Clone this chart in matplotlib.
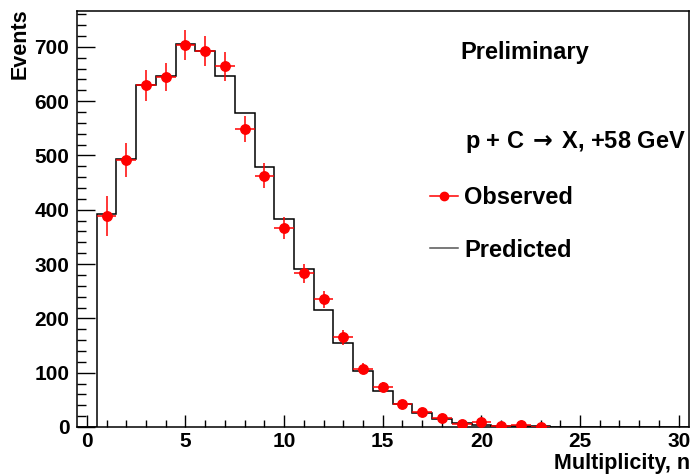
import matplotlib
matplotlib.use("Agg")
import matplotlib.pyplot as plt
from matplotlib.lines import Line2D
import numpy as np

plt.rcParams['font.family'] = ['Liberation Sans', 'DejaVu Sans']
plt.rcParams['font.weight'] = 'bold'
plt.rcParams['mathtext.fontset'] = 'dejavusans'

# observed multiplicity distribution (n = 1..23)
n_obs = list(range(1, 24))
obs = [389, 492, 629, 645, 703, 692, 664, 549, 463, 366, 283, 235, 165,
       107, 74, 42, 27, 16, 5, 9, 2, 3, 0.5]
obs_err = [37, 31, 29, 26, 28, 28, 26, 24, 23, 20, 18, 16, 14,
           10, 8, 6, 5, 4, 3, 4, 2, 2, 1]

# predicted histogram, bins centred on n = 0..30
pred = [0, 392, 494, 630, 646, 705, 692, 646, 578, 478, 383, 291, 215, 154,
        104, 67, 42, 26, 15, 7, 4, 2.5, 1.5, 1, 0, 0, 0, 0, 0, 0, 0]

fig = plt.figure(figsize=(6.93, 4.74), dpi=100)
ax = fig.add_axes([77/693, 1 - 427/474, (688.5 - 77)/693, (427 - 11)/474])

edges = np.arange(len(pred) + 1) - 0.5
ax.stairs(pred, edges, color='black', lw=1.1, baseline=0)

ax.errorbar(n_obs, obs, yerr=obs_err, xerr=0.5, fmt='o', color='red',
            ms=6.8, elinewidth=1.1, capsize=0, zorder=3)

ax.set_xlim(-0.5, 30.5)
ax.set_ylim(0, 766)
ax.set_xticks(range(0, 31, 5))
ax.set_xticks(range(0, 31), minor=True)
ax.set_yticks(range(0, 701, 100))
ax.set_yticks(range(0, 761, 20), minor=True)

ax.tick_params(axis='both', which='both', direction='in', top=False, right=False,
               labelsize=15)
ax.tick_params(axis='y', which='major', length=13, width=1, pad=5.5)
ax.tick_params(axis='y', which='minor', length=6.5, width=1)
ax.tick_params(axis='x', which='major', length=9, width=1, pad=3.5)
ax.tick_params(axis='x', which='minor', length=4.7, width=1)
for lab in ax.get_xticklabels() + ax.get_yticklabels():
    lab.set_fontweight('bold')
for sp in ax.spines.values():
    sp.set_linewidth(1.1)

fig.text(690/693, 1 - 463/474, 'Multiplicity, n', ha='right', va='center',
         fontsize=15.5, fontweight='bold')
fig.text(20/693, 1 - 8/474, 'Events', ha='center', va='top', rotation=90,
         fontsize=15.5, fontweight='bold')

fig.text(460/693, 1 - 53/474, 'Preliminary', ha='left', va='center',
         fontsize=17, fontweight='bold')
fig.text(465/693, 1 - 142/474, r'p + C$\,\rightarrow\,$X, +58 GeV', ha='left',
         va='center', fontsize=17, fontweight='bold')

handles = [Line2D([], [], color='red', marker='o', ms=6, lw=1.1),
           Line2D([], [], color='#555555', lw=1.1)]
ax.legend(handles, ['Observed', 'Predicted'], loc='upper left',
          bbox_to_anchor=(430/693, 1 - 186/474), bbox_transform=fig.transFigure,
          frameon=False, prop={'weight': 'bold', 'size': 17},
          handlelength=1.2, handletextpad=0.25, labelspacing=1.25,
          borderpad=0, borderaxespad=0)

fig.savefig('out.png', dpi=100)
